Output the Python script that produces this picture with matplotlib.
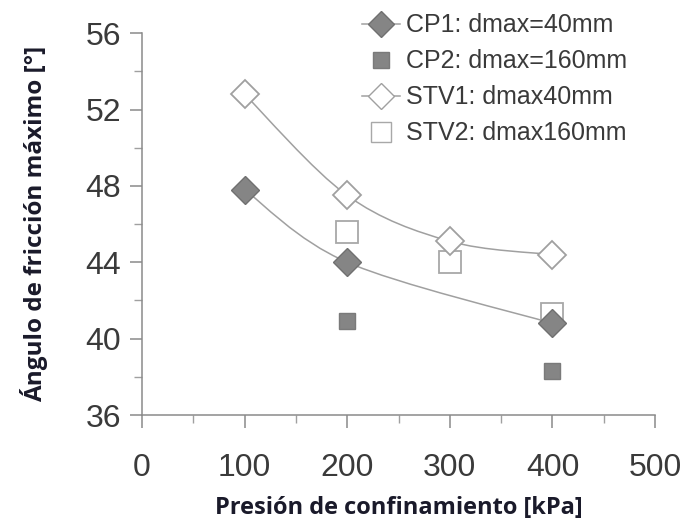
import matplotlib.pyplot as plt
import matplotlib.patches as patches
from matplotlib.path import Path
from matplotlib.lines import Line2D
import numpy as np

# datos
cp1_x = [100, 200, 400]
cp1_y = [47.8, 44.0, 40.8]
cp2_x = [200, 400]
cp2_y = [40.9, 38.3]
stv1_x = [100, 200, 300, 400]
stv1_y = [52.8, 47.5, 45.1, 44.4]
stv2_x = [200, 300, 400]
stv2_y = [45.6, 44.0, 41.3]

labels = ['CP1: dmax=40mm', 'CP2: dmax=160mm', 'STV1: dmax40mm', 'STV2: dmax160mm']
xticks = [0, 100, 200, 300, 400, 500]
yticks = [36, 40, 44, 48, 52, 56]

plt.rcParams['font.family'] = ['Liberation Sans', 'DejaVu Sans']


def smooth_path(xs, ys):
    # curva suavizada tipo Excel (Bezier por Catmull-Rom)
    p = np.column_stack([xs, ys]).astype(float)
    n = len(p)
    verts = [p[0]]
    codes = [Path.MOVETO]
    for i in range(n - 1):
        p0 = p[i - 1] if i > 0 else p[i]
        p3 = p[i + 2] if i + 2 < n else p[i + 1]
        c1 = p[i] + (p[i + 1] - p0) / 6
        c2 = p[i + 1] - (p3 - p[i]) / 6
        verts += [c1, c2, p[i + 1]]
        codes += [Path.CURVE4] * 3
    return Path(verts, codes)


fig = plt.figure(figsize=(6.91, 5.27), dpi=100)
ax = fig.add_axes([0.2055, 0.2125, 0.7425, 0.7245])

line_c = '#a0a0a0'
ax.add_patch(patches.PathPatch(smooth_path(cp1_x, cp1_y), fc='none', ec=line_c, lw=1.1, zorder=2))
ax.add_patch(patches.PathPatch(smooth_path(stv1_x, stv1_y), fc='none', ec=line_c, lw=1.1, zorder=2))

ax.plot(stv2_x, stv2_y, 's', ms=16, mfc='white', mec='#a8a8a8', mew=1.3, zorder=3)
ax.plot(cp2_x, cp2_y, 's', ms=12, mfc='#858585', mec='#7a7a7a', mew=1, zorder=3)
ax.plot(cp1_x, cp1_y, 'D', ms=14, mfc='#858585', mec='#707070', mew=1, zorder=4)
ax.plot(stv1_x, stv1_y, 'D', ms=14, mfc='white', mec='#a0a0a0', mew=1.3, zorder=4)

ax.set_xlim(0, 500)
ax.set_ylim(36, 56)
ax.set_xticks(xticks)
ax.set_yticks(yticks)
ax.set_xticks(np.arange(50, 500, 100), minor=True)
ax.set_yticks(np.arange(38, 56, 4), minor=True)
for s in ['top', 'right']:
    ax.spines[s].set_visible(False)
for s in ['left', 'bottom']:
    ax.spines[s].set_color('#8a8a8a')
    ax.spines[s].set_linewidth(1.1)
ax.tick_params(which='major', direction='out', length=9, width=1.1, color='#8a8a8a',
               labelsize=23, labelcolor='#3a3a3a')
ax.tick_params(which='minor', direction='out', length=6, width=1.0, color='#a0a0a0')
ax.tick_params(axis='x', pad=18)
ax.tick_params(axis='y', pad=6)

ax.set_xlabel('Presión de confinamiento [kPa]', fontsize=17, fontweight='bold',
              color='#1a1a2a', family=['Open Sans', 'DejaVu Sans'], labelpad=10)
ax.set_ylabel('Ángulo de fricción máximo [°]', fontsize=17.5, fontweight='bold',
              color='#1a1a2a', family=['Open Sans', 'DejaVu Sans'], labelpad=27)

handles = [
    Line2D([], [], color=line_c, lw=1.1, marker='D', ms=13, mfc='#858585', mec='#707070'),
    Line2D([], [], ls='none', marker='s', ms=11, mfc='#858585', mec='#7a7a7a'),
    Line2D([], [], color=line_c, lw=1.1, marker='D', ms=13, mfc='white', mec='#a0a0a0'),
    Line2D([], [], ls='none', marker='s', ms=15, mfc='white', mec='#a8a8a8'),
]
leg = ax.legend(handles, labels, loc='upper left', bbox_to_anchor=(0.41, 1.078),
                frameon=False, fontsize=18, handlelength=1.5, handletextpad=0.25,
                labelspacing=0.48, borderaxespad=0)
for t in leg.get_texts():
    t.set_color('#3a3a3a')

fig.savefig('out.png', dpi=100)
